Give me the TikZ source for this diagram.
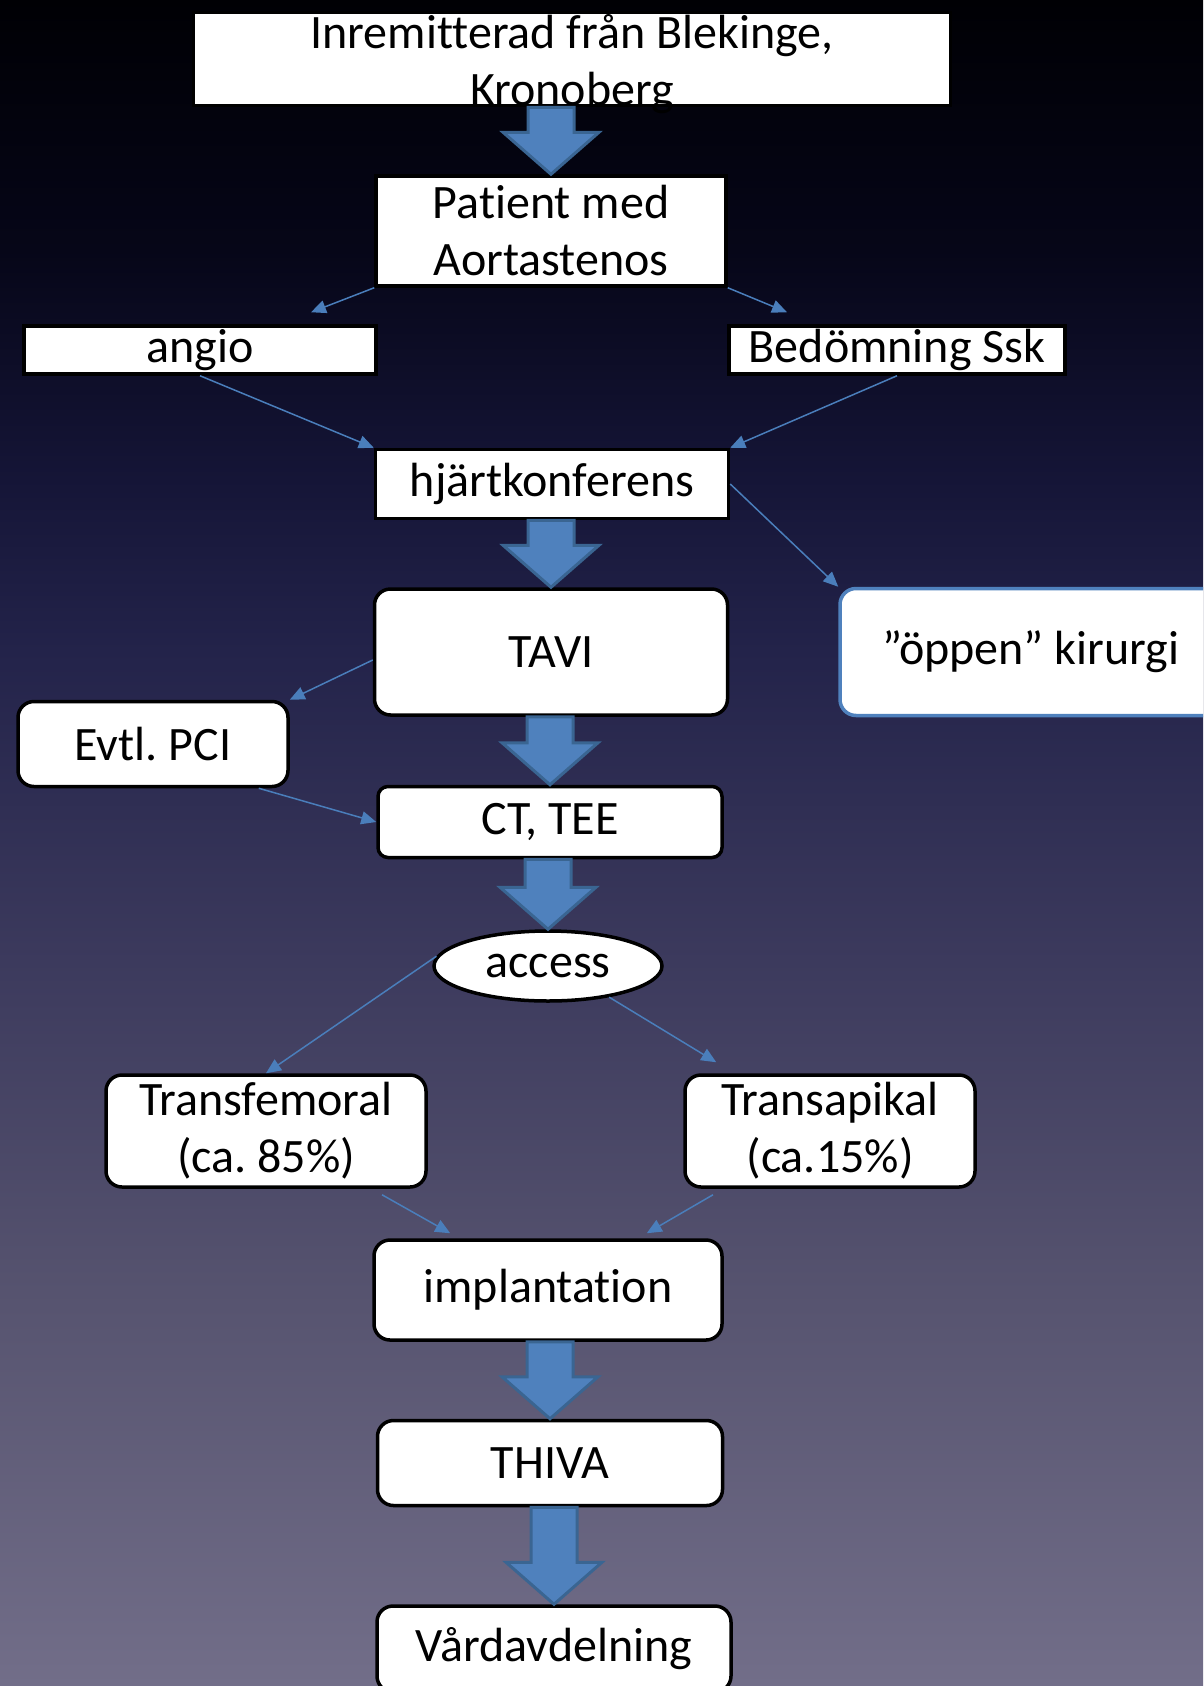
\documentclass[tikz,border=0pt]{standalone}
\usepackage{fontspec}
\setmainfont{Carlito}[Ligatures={TeX,NoCommon}]
\usetikzlibrary{arrows.meta,calc,shapes.geometric}
\frenchspacing

\definecolor{flowblue}{HTML}{4F81BD}
\definecolor{flowedge}{HTML}{3A6592}
\definecolor{linkblue}{HTML}{4A7EBB}
\definecolor{bgA}{HTML}{000004}
\definecolor{bgB}{HTML}{060618}
\definecolor{bgC}{HTML}{151537}
\definecolor{bgD}{HTML}{23234A}
\definecolor{bgE}{HTML}{3C3A5D}
\definecolor{bgF}{HTML}{56536F}
\definecolor{bgG}{HTML}{726E89}

\pgfdeclareverticalshading{slidebg}{100bp}{color(0bp)=(bgG); color(25bp)=(bgG); color(36.7bp)=(bgF); color(46.5bp)=(bgE); color(55.7bp)=(bgD); color(60.8bp)=(bgC); color(67.6bp)=(bgB); color(75bp)=(bgA); color(100bp)=(bgA)}

\begin{document}
\begin{tikzpicture}[x=1pt, y=-1pt,
    every node/.style={font=\fontsize{48}{57}\selectfont, inner sep=0pt, align=center},
    box/.style={rectangle, draw=black, line width=3.5pt, fill=white},
    roundbox/.style={box, rounded corners=16pt},
    flow/.style={fill=flowblue, draw=flowedge, line width=3pt, line join=miter},
    link/.style={draw=linkblue, line width=1.5pt, -{Triangle[length=15pt,width=13pt]}}]

    % Hintergrund
    \useasboundingbox (0,0) rectangle (1203,1686);
    \clip (0,0) rectangle (1203,1686);
    \shade[shading=slidebg] (0,0) rectangle (1203,1686);

    % Remiss und Utredning
    \node[box, minimum width=757pt, text height=92.5pt, text depth=0.5pt] (top) at (572,59) {Inremitterad från Blekinge,\\Kronoberg};
    \node[box, minimum width=350pt, minimum height=110pt] (patient) at (551,231) {Patient med\\Aortastenos};
    \node[box, minimum width=352pt, minimum height=48pt] (angio) at (200,350) {angio};
    \node[box, minimum width=336pt, minimum height=48pt] (bed) at (897,350) {Bedömning Ssk};
    \node[box, minimum width=353pt, minimum height=69pt] (konf) at (552,484) {hjärtkonferens};

    % Behandling
    \node[roundbox, minimum width=353pt, minimum height=126pt] (tavi) at (551,652) {TAVI};
    \node[roundbox, draw=flowblue, minimum width=382pt, minimum height=127pt] (open) at (1031,652) {”öppen” kirurgi};
    \node[roundbox, minimum width=270pt, minimum height=85pt] (pci) at (153,744) {Evtl. PCI};
    \node[roundbox, rounded corners=10pt, minimum width=344pt, minimum height=71pt] (ct) at (550,822) {CT, TEE};
    \node[box, ellipse, minimum width=228pt, minimum height=70pt] (access) at (548,966) {access};
    \node[roundbox, minimum width=320pt, minimum height=112pt] (femoral) at (266,1131) {Transfemoral\\(ca. 85\%)};
    \node[roundbox, minimum width=290pt, minimum height=112pt] (apikal) at (830,1131) {Transapikal\\(ca.15\%)};
    \node[roundbox, minimum width=348pt, minimum height=100pt] (impl) at (548,1290) {implantation};
    \node[roundbox, minimum width=345pt, minimum height=85pt] (thiva) at (550,1463) {THIVA};
    \node[roundbox, minimum width=354pt, minimum height=86pt] (vard) at (554,1649) {Vårdavdelning};

    % Tunna pilar
    \draw[link] (patient.south west) -- ($(angio.north)+(111,-12)$);
    \draw[link] (patient.south east) -- ($(bed.north)+(-110,-12)$);
    \draw[link] (angio.south) -- (konf.north west);
    \draw[link] (bed.south) -- (konf.north east);
    \draw[link] (konf.east) -- (open.north west);
    \draw[link] ($(tavi.west)+(0,8)$) -- (pci.north east);
    \draw[link] ($(pci.south east)+(-31,0)$) -- (ct.west);
    \draw[link] (access.175) -- (femoral.north);
    \draw[link] (access.333) -- ($(apikal.north west)+(33,-11)$);
    \draw[link] ($(femoral.south)+(116,6)$) -- ($(impl.north west)+(78,-5)$);
    \draw[link] ($(apikal.south)+(-117,6)$) -- ($(impl.north east)+(-77,-5)$);

    % Blockpilar
    \foreach \a/\b in {top/patient, konf/tavi, tavi/ct, ct/access, impl/thiva, thiva/vard}
        \draw[flow] ($(\b.north |- \a.south)+(-23,0)$) -- ($(\b.north)+(-23,-42)$) -- ($(\b.north)+(-48,-42)$)
            -- (\b.north) -- ($(\b.north)+(48,-42)$) -- ($(\b.north)+(23,-42)$) -- ($(\b.north |- \a.south)+(23,0)$) -- cycle;
\end{tikzpicture}
\end{document}
